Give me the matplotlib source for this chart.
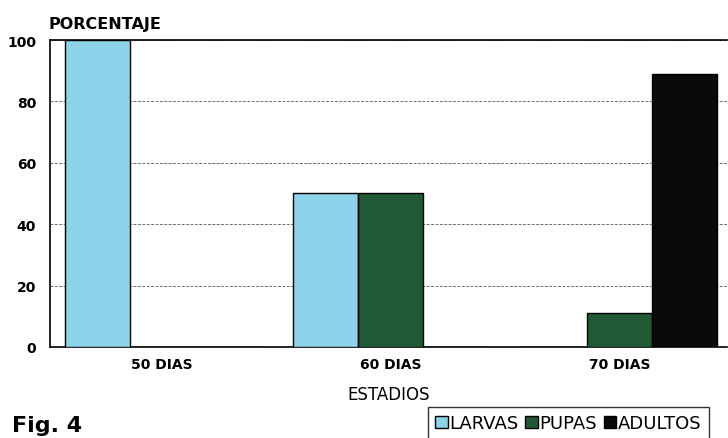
import numpy as np
import matplotlib
matplotlib.use("Agg")
import matplotlib.pyplot as plt

# Datos del gráfico
estadios = ["50 DIAS", "60 DIAS", "70 DIAS"]
larvas = [100, 50, 0]
pupas = [0, 50, 11]
adultos = [0, 0, 89]
series = ["LARVAS", "PUPAS", "ADULTOS"]
colores = ["#8dd3ea", "#1f5a34", "#0a0a0a"]

plt.rcParams["font.family"] = ["DejaVu Sans"]

fig = plt.figure(figsize=(7.28, 4.39), dpi=100)
ax = fig.add_axes([0.0687, 0.2073, 0.93, 0.6993])

x = np.arange(len(estadios))
ancho = 0.284
for i, (nombre, valores, color) in enumerate(zip(series, [larvas, pupas, adultos], colores)):
    ax.bar(x + (i - 1) * ancho, valores, ancho, color=color, edgecolor="black",
           linewidth=1.0, label=nombre, zorder=3)

ax.set_xlim(-0.49, 2.47)
ax.set_ylim(0, 100)
ax.set_yticks([0, 20, 40, 60, 80, 100])
ax.set_xticks(x)
ax.set_xticklabels(estadios)
ax.tick_params(axis="y", length=0, labelsize=10, pad=10)
ax.tick_params(axis="x", length=0, labelsize=10, pad=7)
for lbl in ax.get_yticklabels() + ax.get_xticklabels():
    lbl.set_fontweight("bold")
ax.yaxis.grid(True, linestyle=(0, (3, 1.5)), color="#7a6670", linewidth=0.7, zorder=0)
for s in ["left", "bottom", "top"]:
    ax.spines[s].set_linewidth(1.2)
ax.spines["right"].set_visible(False)

ax.set_xlabel("ESTADIOS", fontsize=12, labelpad=10)
fig.text(49 / 728, 1 - 25 / 439, "PORCENTAJE", fontsize=11.5, fontweight="bold",
         va="center", ha="left")
fig.text(12 / 728, 1 - 432 / 439, "Fig. 4", fontsize=16, fontweight="bold",
         va="baseline", ha="left")

fig.legend(loc="upper left", bbox_to_anchor=(428 / 728, 1 - 408 / 439), ncol=3,
           frameon=True, fancybox=False, edgecolor="black", fontsize=13,
           handlelength=0.7, handleheight=0.7, handletextpad=0.1,
           columnspacing=0.35, borderpad=0.4, borderaxespad=0)

fig.savefig("out.png", dpi=100)
